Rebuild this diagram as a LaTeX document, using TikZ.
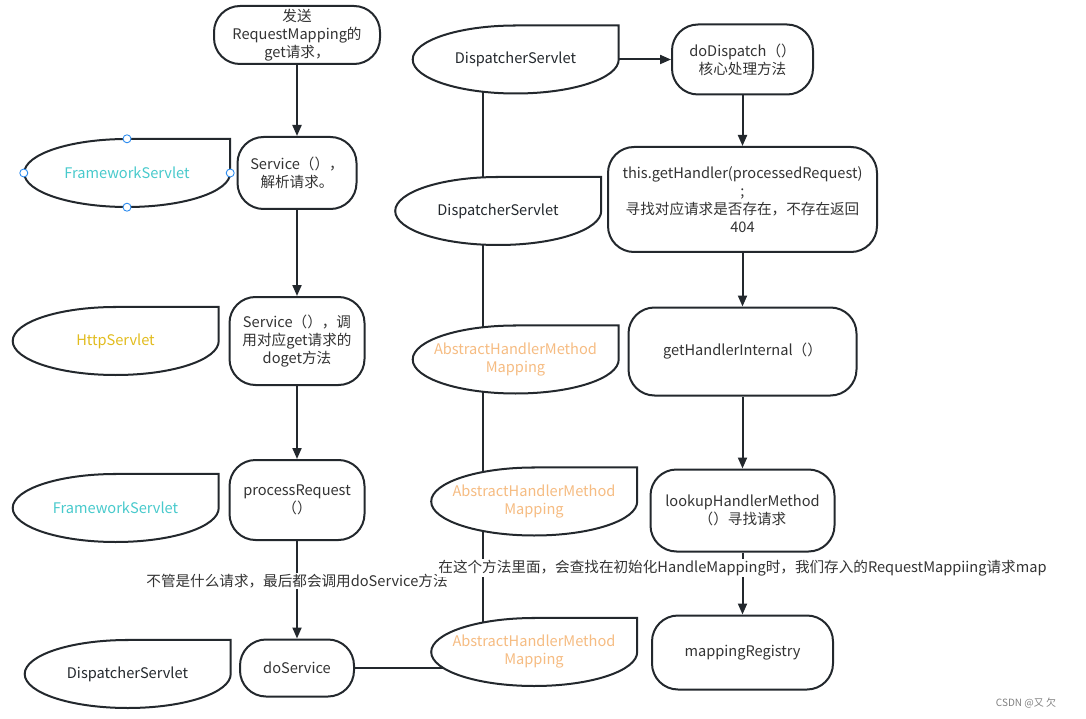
\documentclass[tikz,border=0pt]{standalone}
\usepackage{fontspec}
\setmainfont{Noto Sans CJK SC}
\usetikzlibrary{arrows.meta,positioning}
\pgfdeclarelayer{lines}
\pgfdeclarelayer{shapes}
\pgfsetlayers{lines,shapes,main}
\definecolor{edgecol}{RGB}{35,40,45}
\definecolor{txtcol}{RGB}{51,51,51}
\definecolor{cyantxt}{RGB}{72,202,204}
\definecolor{yellowtxt}{RGB}{226,188,30}
\definecolor{orangetxt}{RGB}{246,188,130}
\definecolor{handlecol}{RGB}{45,140,240}
\tikzset{
  proc/.style={draw=edgecol, line width=2pt, fill=white, rounded corners=26pt, align=center, text=txtcol, inner sep=2pt},
  tagnode/.style={minimum width=206pt, minimum height=68pt, align=center, inner sep=0pt, text=edgecol},
  tagline/.style={draw=edgecol, line width=2pt, fill=white},
  flow/.style={draw=edgecol, line width=2pt, -{Triangle[length=11pt,width=9pt]}},
  link/.style={draw=edgecol, line width=2pt},
  note/.style={fill=white, text=txtcol, inner sep=1pt},
  handle/.style={draw=handlecol, fill=white, line width=0.9pt},
}
\newcommand\tagshape[1]{%
  \draw[tagline] (#1.north) -- (#1.north east) -- (#1.east)
    arc[start angle=0, end angle=-90, x radius=103pt, y radius=34pt]
    arc[start angle=270, end angle=90, x radius=103pt, y radius=34pt] -- cycle;}
\begin{document}
\begin{tikzpicture}[x=1pt, y=-1pt, font=\fontsize{14.6}{18}\selectfont]
    \useasboundingbox (0,0) rectangle (1086,719);
    \node[proc, minimum width=166pt, minimum height=58pt] (req) at (297,35) {发送\\RequestMapping的\\get请求，};
    \node[proc, minimum width=119pt, minimum height=72pt, below of=req, node distance=138pt] (service) {Service（），\\解析请求。};
    \node[proc, minimum width=135pt, minimum height=88pt, below of=service, node distance=168pt] (doget) {Service（），调\\用对应get请求的\\doget方法};
    \node[proc, minimum width=135pt, minimum height=80pt, below of=doget, node distance=159pt] (process) {processRequest\\（）};
    \node[proc, minimum width=114pt, minimum height=57pt, below of=process, node distance=168pt] (doservice) {doService};

    \node[proc, minimum width=141pt, minimum height=70pt] (dispatch) at (742.5,59.5) {doDispatch（）\\核心处理方法};
    \node[proc, minimum width=269pt, minimum height=105pt, below of=dispatch, node distance=140pt] (gethandler) {this.getHandler(processedRequest)\\;\\寻找对应请求是否存在，不存在返回\\404};
    \node[proc, minimum width=228pt, minimum height=88pt, below of=gethandler, node distance=152pt] (internal) {getHandlerInternal（）};
    \node[proc, minimum width=184pt, minimum height=82pt, below of=internal, node distance=159pt] (lookup) {lookupHandlerMethod\\（）寻找请求};
    \node[proc, minimum width=181pt, minimum height=74pt, below of=lookup, node distance=142pt] (registry) {mappingRegistry};

    \node[tagnode, text=cyantxt] (fw1) at (127,173) {FrameworkServlet};
    \node[tagnode, text=yellowtxt] (http) at (115.5,341) {HttpServlet};
    \node[tagnode, text=cyantxt] (fw2) at (115.5,508) {FrameworkServlet};
    \node[tagnode] (ds0) at (127.5,674) {DispatcherServlet};
    \node[tagnode] (ds1) at (515.5,59.5) {DispatcherServlet};
    \node[tagnode] (ds2) at (498,211) {DispatcherServlet};
    \node[tagnode, text=orangetxt] (ahm1) at (515.5,359.5) {AbstractHandlerMethod\\Mapping};
    \node[tagnode, text=orangetxt] (ahm2) at (534,501.5) {AbstractHandlerMethod\\Mapping};
    \node[tagnode, text=orangetxt] (ahm3) at (534,652) {AbstractHandlerMethod\\Mapping};
    \coordinate (mid) at (483,0);

    \begin{pgfonlayer}{shapes}
    \foreach \t in {fw1,http,fw2,ds0,ds1,ds2,ahm1,ahm2,ahm3} {\tagshape{\t}}
    \end{pgfonlayer}
    \begin{pgfonlayer}{lines}
    \draw[link] (mid |- ds1) -- (mid |- ahm3);
    \draw[link] (doservice.east) -- (doservice.east -| ahm3.center);
    \end{pgfonlayer}

    \foreach \a in {north,south,east,west} {\draw[handle] (fw1.\a) circle (4pt);}

    \draw[flow] (req) -- (service);
    \draw[flow] (service) -- (doget);
    \draw[flow] (doget) -- (process);
    \draw[flow] (process) -- (doservice) node[note, pos=0.41] (lbl1) {不管是什么请求，最后都会调用doService方法};
    \draw[flow] (ds1.east) -- (ds1.east -| dispatch.west);
    \draw[flow] (dispatch) -- (gethandler);
    \draw[flow] (gethandler) -- (internal);
    \draw[flow] (internal) -- (lookup);
    \draw[flow] (lookup) -- (registry) node[note, pos=0.25] (lbl2) {在这个方法里面，会查找在初始化HandleMapping时，我们存入的RequestMappiing请求map};

    \node[text=gray, font=\fontsize{10}{12}\selectfont] (mark) at (1026,703) {CSDN @又 欠};
\end{tikzpicture}
\end{document}
